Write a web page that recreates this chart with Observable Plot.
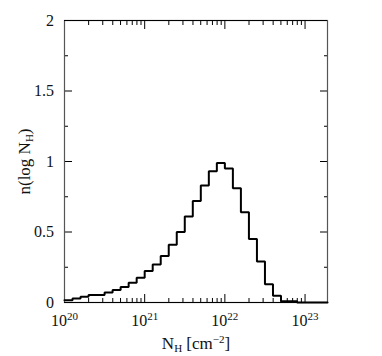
<!DOCTYPE html>
<html>
<head>
<meta charset="utf-8">
<script src="https://cdn.jsdelivr.net/npm/d3@7"></script>
<script src="https://cdn.jsdelivr.net/npm/@observablehq/plot@0.6"></script>
<style>
  body { margin: 0; background: #fff; }
</style>
</head>
<body>
<div id="chart"></div>
<script>
// ---- data ----
const binLowLog = [20.0, 20.1, 20.2, 20.3, 20.4, 20.5, 20.6, 20.7, 20.8, 20.9,
                   21.0, 21.1, 21.2, 21.3, 21.4, 21.5, 21.6, 21.7, 21.8, 21.9,
                   22.0, 22.1, 22.2, 22.3, 22.4, 22.5, 22.6, 22.7, 22.8, 22.9];
const binHeight = [0.016, 0.028, 0.040, 0.054, 0.054, 0.071, 0.089, 0.110, 0.140, 0.175,
                   0.224, 0.270, 0.330, 0.410, 0.500, 0.610, 0.720, 0.830, 0.930, 0.990,
                   0.950, 0.810, 0.640, 0.450, 0.290, 0.130, 0.047, 0.008, 0.008, 0.000];
const xDomainLog = [20, 23.28];
const yDomain = [0, 2];
const xMajorTicks = [1e20, 1e21, 1e22, 1e23];
const xMinorTicks = [2e20, 3e20, 4e20, 5e20, 6e20, 7e20, 8e20, 9e20,
                     2e21, 3e21, 4e21, 5e21, 6e21, 7e21, 8e21, 9e21,
                     2e22, 3e22, 4e22, 5e22, 6e22, 7e22, 8e22, 9e22];
const yMajorTicks = [0, 0.5, 1, 1.5, 2];
const yMinorTicks = [0.25, 0.75, 1.25, 1.75];
const xTitle = "N{_H} [cm{^−2}]";
const yTitle = "n(log N{_H})";

// ---- build ----
const xDomain = xDomainLog.map(v => 10 ** v);
const steps = binLowLog.map((l, i) => ({x: 10 ** l, y: binHeight[i]}));
steps.push({x: xDomain[1], y: 0});

const fmtPow = d => `10{^${Math.round(Math.log10(d))}}`;
const axisStyle = {stroke: "#000", strokeWidth: 1, label: null};

const chart = Plot.plot({
  width: 382,
  height: 356,
  marginLeft: 64,
  marginRight: 55,
  marginTop: 20,
  marginBottom: 54,
  style: {fontFamily: "'Liberation Serif', serif", fontSize: "16px", color: "#111", background: "#fff"},
  x: {type: "log", domain: xDomain, axis: null},
  y: {domain: yDomain, axis: null},
  marks: [
    // bottom axis
    Plot.axisX(xMajorTicks, {anchor: "bottom", tickSize: -8, tickPadding: 20, tickFormat: fmtPow, fontSize: 16, ...axisStyle}),
    Plot.axisX(xMinorTicks, {anchor: "bottom", tickSize: -4, tickFormat: null, text: null, ...axisStyle}),
    // top axis
    Plot.axisX(xMajorTicks, {anchor: "top", tickSize: -8, tickFormat: null, text: null, ...axisStyle}),
    Plot.axisX(xMinorTicks, {anchor: "top", tickSize: -4, tickFormat: null, text: null, ...axisStyle}),
    // left axis
    Plot.axisY(yMajorTicks, {anchor: "left", tickSize: -8, tickPadding: 18.5, tickFormat: d => String(d), fontSize: 16, ...axisStyle}),
    Plot.axisY(yMinorTicks, {anchor: "left", tickSize: -4, tickFormat: null, text: null, ...axisStyle}),
    // right axis
    Plot.axisY(yMajorTicks, {anchor: "right", tickSize: -8, tickFormat: null, text: null, ...axisStyle}),
    Plot.axisY(yMinorTicks, {anchor: "right", tickSize: -4, tickFormat: null, text: null, ...axisStyle}),
    // frame
    Plot.frame({stroke: "#555", strokeWidth: 1.2}),
    Plot.ruleY([yDomain[0], yDomain[1]], {stroke: "#000", strokeWidth: 1}),
    // histogram
    Plot.line(steps, {x: "x", y: "y", curve: "step-after", stroke: "#000", strokeWidth: 2, strokeLinejoin: "miter"}),
    // titles
    Plot.text([xTitle], {frameAnchor: "bottom", dy: 41, lineAnchor: "middle", textAnchor: "middle", fontSize: 17, fill: "#111"}),
    Plot.text([yTitle], {frameAnchor: "left", dx: -40, rotate: -90, lineAnchor: "middle", textAnchor: "middle", fontSize: 17, fill: "#111"})
  ]
});

// turn {^..} / {_..} markup into real tspans
const NS = "http://www.w3.org/2000/svg";
function richify(el) {
  const s = el.textContent;
  if (!/\{[_^]/.test(s)) return;
  el.textContent = "";
  const re = /\{([_^])([^}]*)\}/g;
  let last = 0, m, pending = 0;
  const add = (txt, dy, small) => {
    if (!txt) return;
    const t = document.createElementNS(NS, "tspan");
    t.textContent = txt;
    if (dy) t.setAttribute("dy", dy);
    if (small) t.setAttribute("font-size", "11px");
    el.appendChild(t);
  };
  while ((m = re.exec(s))) {
    add(s.slice(last, m.index), pending, false);
    pending = 0;
    const shift = m[1] === "^" ? -6 : 3;
    add(m[2], shift, true);
    pending = -shift;
    last = re.lastIndex;
  }
  add(s.slice(last), pending, false);
}
chart.querySelectorAll("text").forEach(richify);
document.getElementById("chart").appendChild(chart);
</script>
</body>
</html>
